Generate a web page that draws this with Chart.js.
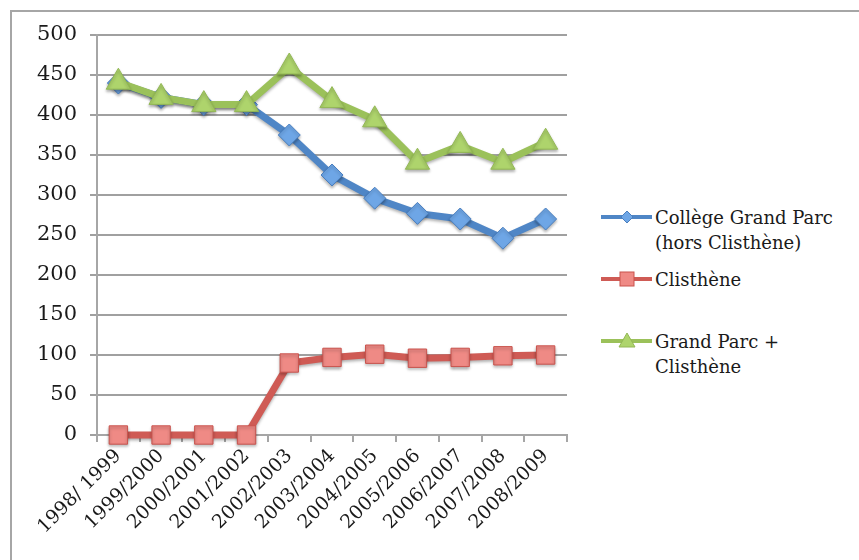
<!DOCTYPE html>
<html>
<head>
<meta charset="utf-8">
<script src="https://cdn.jsdelivr.net/npm/chart.js@4"></script>
<style>
  body { margin: 0; background: #fff; width: 859px; height: 560px; overflow: hidden; position: relative; font-family: "DejaVu Serif", serif; }
  #cadre { position: absolute; left: 10px; top: 10px; width: 900px; height: 600px; border: 2px solid #a6a6a6; box-sizing: border-box; }
  #zone { position: absolute; left: 0; top: 0; width: 585px; height: 560px; }
  #legende { position: absolute; left: 600px; top: 205px; font-size: 18px; color: #1a1a1a; }
  .item { position: absolute; left: 0; white-space: nowrap; line-height: 25px; }
  .item svg { position: absolute; left: 0; }
  .item span { position: absolute; left: 55px; }
</style>
</head>
<body>
<div id="cadre"></div>
<div id="zone"><canvas id="myChart"></canvas></div>
<div id="legende"></div>
<script>
const annees = ["1998/ 1999", "1999/2000", "2000/2001", "2001/2002", "2002/2003", "2003/2004",
  "2004/2005", "2005/2006", "2006/2007", "2007/2008", "2008/2009"];
const grandParc = [440, 422, 413, 413, 375, 325, 296, 277, 270, 246, 270];
const clisthene = [0, 0, 0, 0, 90, 97, 101, 96, 97, 99, 100];
const total = [441, 422, 413, 413, 460, 418, 394, 341, 362, 341, 366];
const nomsSeries = [["Collège Grand Parc", "(hors Clisthène)"], ["Clisthène"], ["Grand Parc +", "Clisthène"]];
const yTicks = [0, 50, 100, 150, 200, 250, 300, 350, 400, 450, 500];

const grafica = document.getElementById("myChart");

const ombre = {
  id: "ombre",
  beforeDatasetsDraw: (chart) => {
    const ctx = chart.ctx;
    ctx.save();
    ctx.shadowColor = "rgba(0,0,0,0.3)";
    ctx.shadowBlur = 3;
    ctx.shadowOffsetY = 2;
  },
  afterDatasetsDraw: (chart) => {
    chart.ctx.restore();
  },
};

const datasets = [
  {
    label: "Collège Grand Parc (hors Clisthène)",
    data: grandParc,
    borderColor: "#4f86c6",
    backgroundColor: "#6ea6e6",
    pointBorderColor: "#4a7fbf",
    pointStyle: "rectRot",
    pointRadius: 11,
    pointBorderWidth: 1,
    borderWidth: 7,
    clip: false,
    order: 2,
  },
  {
    label: "Clisthène",
    data: clisthene,
    borderColor: "#cf5b55",
    backgroundColor: "#ef8a85",
    pointBorderColor: "#c9534d",
    pointStyle: "rect",
    pointRadius: 13,
    pointBorderWidth: 1,
    borderWidth: 7,
    clip: false,
    order: 1,
  },
  {
    label: "Grand Parc + Clisthène",
    data: total,
    borderColor: "#9bc15a",
    backgroundColor: "#aed46c",
    pointBorderColor: "#93b855",
    pointStyle: "triangle",
    pointRadius: 14,
    pointBorderWidth: 1,
    borderWidth: 7,
    clip: false,
    order: 0,
  },
];

const config = {
  type: "line",
  data: { labels: annees, datasets },
  options: {
    responsive: true,
    maintainAspectRatio: false,
    animation: false,
    layout: { padding: { top: 35, right: 18, left: 0, bottom: 0 } },
    plugins: { legend: { display: false }, tooltip: { enabled: false } },
    scales: {
      x: {
        offset: true,
        grid: { display: true, offset: true, drawOnChartArea: false, drawTicks: true, tickLength: 7, color: "#a6a6a6", lineWidth: 2 },
        border: { color: "#a6a6a6", width: 2 },
        ticks: { color: "#1a1a1a", font: { family: "DejaVu Serif", size: 19 }, minRotation: 45, maxRotation: 45, padding: 3 },
        afterFit: (axis) => { axis.height = 125; },
      },
      y: {
        min: 0,
        max: 500,
        afterBuildTicks: (axis) => { axis.ticks = yTicks.map((v) => ({ value: v })); },
        grid: { color: "#a0a0a0", lineWidth: 2, tickLength: 7 },
        border: { color: "#a6a6a6", width: 2 },
        ticks: { color: "#1a1a1a", font: { family: "DejaVu Serif", size: 21 }, padding: 13 },
        afterFit: (axis) => { axis.width = 97; },
      },
    },
  },
  plugins: [ombre],
};

new Chart(grafica, config);

// légende à droite
const legende = document.getElementById("legende");
const posLegende = [0, 62, 124];
const marqueurs = [
  '<polygon points="27,6 33,12 27,18 21,12" />',
  '<rect x="20" y="5" width="14" height="14" />',
  '<polygon points="27,4 35,18 19,18" />',
];
datasets.forEach((ds, i) => {
  const div = document.createElement("div");
  div.className = "item";
  div.style.top = posLegende[i] + "px";
  div.innerHTML =
    `<svg width="54" height="24"><line x1="1" y1="12" x2="52" y2="12" stroke="${ds.borderColor}" stroke-width="4"/>` +
    `<g fill="${ds.backgroundColor}" stroke="${ds.pointBorderColor}" stroke-width="1">${marqueurs[i]}</g></svg>` +
    `<span>${nomsSeries[i].join("<br>")}</span>`;
  legende.appendChild(div);
});
</script>
</body>
</html>
